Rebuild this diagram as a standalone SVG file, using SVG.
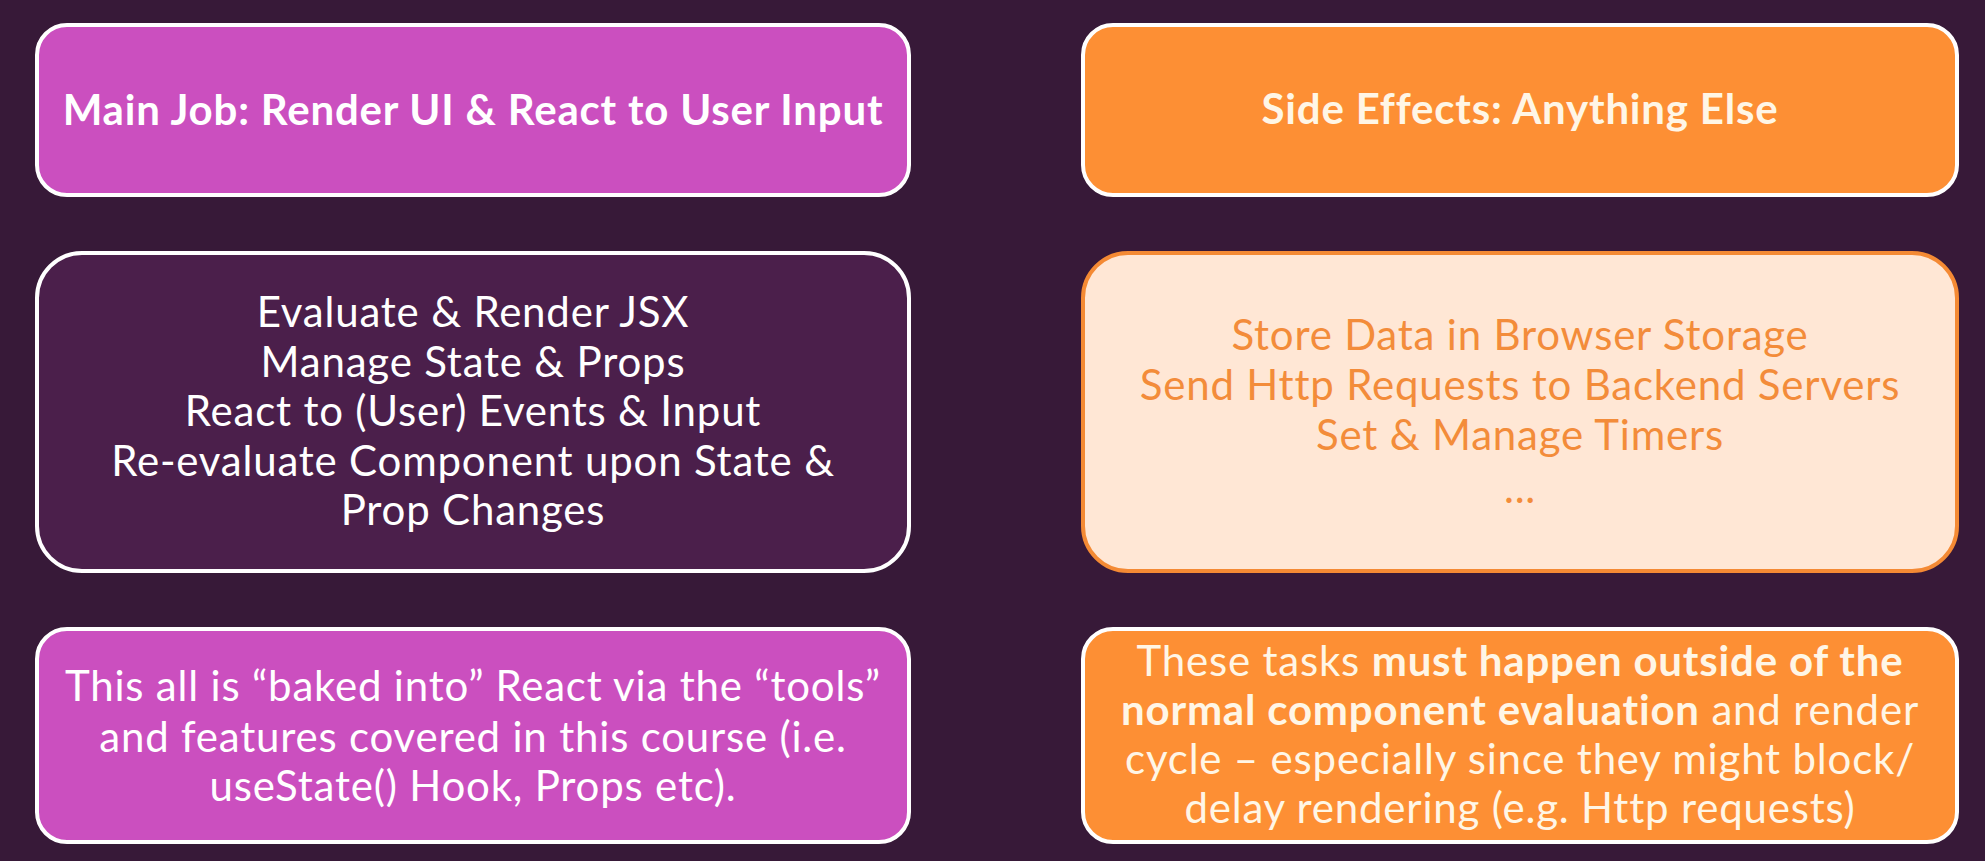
<svg xmlns="http://www.w3.org/2000/svg" width="1985" height="861" viewBox="0 0 1985 861">
<style>
.t{font-family:Lato,"Noto Sans","Liberation Sans",sans-serif;font-size:42px;letter-spacing:0.8px;text-anchor:middle}
.b{font-weight:bold}
.w{fill:#ffffff}
.c{fill:#fff6e6}
.o{fill:#f38c3a}
.box{stroke-width:4}
</style>
<rect width="1985" height="861" fill="#371938"/>
<g id="main-job">
<rect class="box" x="37" y="25" width="872" height="170" rx="30" fill="#cb4fbf" stroke="#ffffff"/>
<text class="t b w" x="473" y="125">Main Job: Render UI &amp; React to User Input</text>
</g>
<g id="side-effects">
<rect class="box" x="1083" y="25" width="874" height="170" rx="30" fill="#fd8f34" stroke="#ffffff"/>
<text class="t b c" x="1520" y="124">Side Effects: Anything Else</text>
</g>
<g id="react-tasks">
<rect class="box" x="37" y="253" width="872" height="318" rx="45" fill="#4b1f4b" stroke="#ffffff"/>
<text class="t w" x="473" y="327">Evaluate &amp; Render JSX</text>
<text class="t w" x="473" y="377">Manage State &amp; Props</text>
<text class="t w" x="473" y="426">React to (User) Events &amp; Input</text>
<text class="t w" x="473" y="476">Re-evaluate Component upon State &amp;</text>
<text class="t w" x="473" y="525">Prop Changes</text>
</g>
<g id="side-effect-tasks">
<rect class="box" x="1083" y="253" width="874" height="318" rx="45" fill="#ffe7d5" stroke="#f48a34"/>
<text class="t o" x="1520" y="350">Store Data in Browser Storage</text>
<text class="t o" x="1520" y="400">Send Http Requests to Backend Servers</text>
<text class="t o" x="1520" y="450">Set &amp; Manage Timers</text>
<text class="t o" x="1520" y="503">...</text>
</g>
<g id="baked-in">
<rect class="box" x="37" y="629" width="872" height="213" rx="30" fill="#cb4fbf" stroke="#ffffff"/>
<text class="t w" x="473" y="701">This all is “baked into” React via the “tools”</text>
<text class="t w" x="473" y="752">and features covered in this course (i.e.</text>
<text class="t w" x="473" y="801">useState() Hook, Props etc).</text>
</g>
<g id="outside-render">
<rect class="box" x="1083" y="629" width="874" height="213" rx="30" fill="#fd8f34" stroke="#ffffff"/>
<text class="t c" x="1520" y="676">These tasks <tspan class="b">must happen outside of the</tspan></text>
<text class="t c" x="1520" y="725"><tspan class="b">normal component evaluation</tspan> and render</text>
<text class="t c" x="1520" y="774">cycle – especially since they might block/</text>
<text class="t c" x="1520" y="823">delay rendering (e.g. Http requests)</text>
</g>
<g id="connectors"></g>
</svg>
